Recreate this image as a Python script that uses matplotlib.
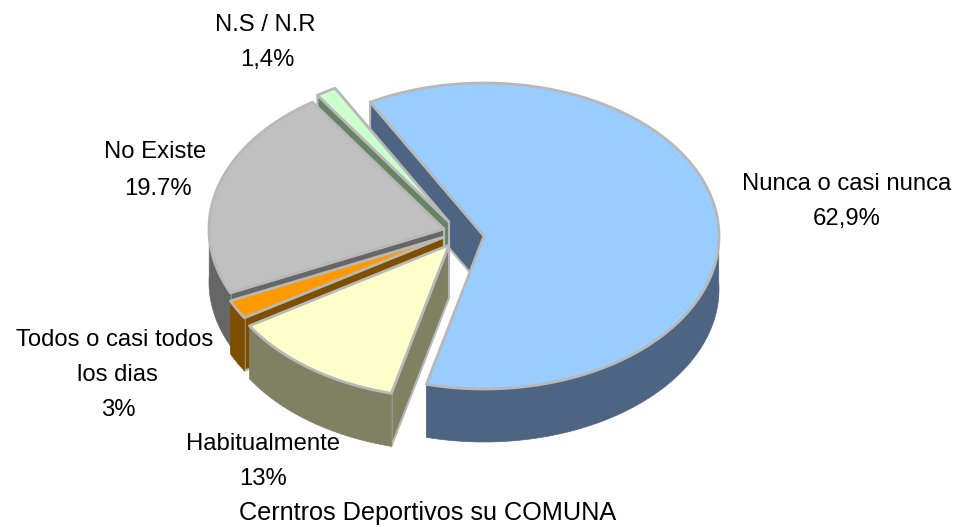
import numpy as np
import matplotlib
matplotlib.use("Agg")
import matplotlib.pyplot as plt

# drawn shares, read off the sector angles (they differ a little from the printed labels)
# clockwise: nunca, habitual, todos, no existe, ns
shares = [62.0, 12.2, 2.0, 22.4, 1.4]
top_colors = ["#99CCFF", "#FFFFCC", "#FF9900", "#C0C0C0", "#CCFFCC"]
wall_colors = ["#4D6482", "#808062", "#7F4F00", "#666666", "#668465"]
apex_x = [484, 449, 444, 444, 449]
apex_y = [236, 245, 237, 229, 222]
draw_order = [0, 4, 3, 2, 1]

start_angle = 119
rx, ry = 235, 153
depth = 53
edge = "#B8B8B8"

fig = plt.figure(figsize=(9.57, 5.27), dpi=100)
ax = fig.add_axes([0, 0, 1, 1])
ax.set_xlim(0, 957)
ax.set_ylim(527, 0)
ax.axis('off')

ends = start_angle - np.cumsum(shares) * 3.6
starts = np.concatenate([[start_angle], ends[:-1]])

for i in draw_order:
  t = np.radians(np.linspace(starts[i], ends[i], 120))
  x = apex_x[i] + rx * np.cos(t)
  y = apex_y[i] - ry * np.sin(t)
  cx, cy = apex_x[i], apex_y[i]
  # radial face, only the one turned towards the viewer
  if np.cos(t[0]) < 0:
    ax.fill([cx, x[0], x[0], cx], [cy, y[0], y[0] + depth, cy + depth],
            fc=wall_colors[i], ec=edge, lw=1.5, joinstyle='round')
  if np.cos(t[-1]) > 0:
    ax.fill([cx, x[-1], x[-1], cx], [cy, y[-1], y[-1] + depth, cy + depth],
            fc=wall_colors[i], ec=edge, lw=1.5, joinstyle='round')
  # outer wall, front part only
  front = np.sin(t) < 0.05
  if front.any():
    fx, fy = x[front], y[front]
    ax.fill(np.r_[fx, fx[::-1]], np.r_[fy, fy[::-1] + depth],
            fc=wall_colors[i], ec=wall_colors[i], lw=0.5)
  # top face
  ax.fill(np.r_[cx, x], np.r_[cy, y], fc=top_colors[i], ec=edge, lw=2, joinstyle='round')

font = dict(family="Liberation Sans", fontsize=17.2, color="black", ha="center", va="center")
ax.text(847, 184, "Nunca o casi nunca", **font)
ax.text(847, 219, "62,9%", **font)
ax.text(265, 25, "N.S / N.R", **font)
ax.text(267, 60, "1,4%", **font)
ax.text(155, 152, "No Existe", **font)
ax.text(158, 189, "19.7%", **font)
ax.text(115, 340, "Todos o casi todos", **font)
ax.text(117, 375, "los dias", **font)
ax.text(118, 410, "3%", **font)
ax.text(263, 444, "Habitualmente", **font)
ax.text(263, 479, "13%", **font)
ax.text(428, 513, "Cerntros Deportivos su COMUNA", family="Liberation Sans", fontsize=18.2,
        color="black", ha="center", va="center")

fig.savefig("out.png", dpi=100)
